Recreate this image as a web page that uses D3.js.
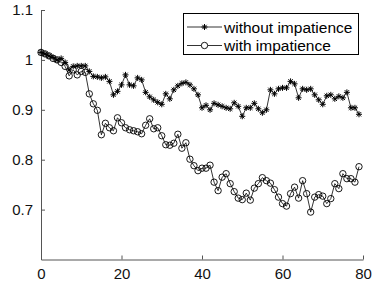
<!DOCTYPE html>
<html>
<head>
<meta charset="utf-8">
<script src="https://cdn.jsdelivr.net/npm/d3@7"></script>
<style>
  body { margin: 0; background: #fff; }
  text { font-family: "Liberation Sans", Arial, sans-serif; }
</style>
</head>
<body>
<div id="graph"></div>
<script>
// data, x = 0..79
var withoutImpatience = [
  1.015, 1.012, 1.008, 1.005, 1.0, 1.003, 0.995, 0.98, 0.987, 0.988,
  0.988, 0.988, 0.977, 0.967, 0.966, 0.964, 0.966, 0.957, 0.93, 0.937,
  0.95, 0.97, 0.95, 0.948, 0.964, 0.96, 0.935, 0.926, 0.92, 0.915,
  0.911, 0.932, 0.922, 0.94, 0.948, 0.953, 0.955, 0.95, 0.942, 0.93,
  0.904, 0.909, 0.9, 0.913, 0.91, 0.907, 0.904, 0.902, 0.914, 0.907,
  0.887, 0.904, 0.904, 0.913, 0.902, 0.894, 0.9, 0.94, 0.932, 0.942,
  0.944, 0.944, 0.957, 0.952, 0.924, 0.942, 0.94, 0.942, 0.93, 0.92,
  0.911, 0.928, 0.93, 0.922, 0.927, 0.924, 0.935, 0.904, 0.904, 0.891
];
var withImpatience = [
  1.015, 1.012, 1.008, 1.003, 1.0, 0.995, 0.987, 0.968, 0.98, 0.97,
  0.977, 0.975, 0.932, 0.912, 0.899, 0.85, 0.873, 0.864, 0.858, 0.884,
  0.874, 0.864, 0.86, 0.858, 0.856, 0.852, 0.869, 0.882, 0.862, 0.864,
  0.848, 0.83, 0.829, 0.833, 0.851, 0.823, 0.834, 0.801, 0.788, 0.778,
  0.783, 0.783, 0.789, 0.755, 0.738, 0.765, 0.772, 0.752, 0.736, 0.723,
  0.72, 0.733, 0.719, 0.743, 0.752, 0.764, 0.758, 0.753, 0.74, 0.725,
  0.712, 0.707, 0.732, 0.745, 0.723, 0.758, 0.732, 0.695, 0.725, 0.73,
  0.727, 0.712, 0.722, 0.752, 0.742, 0.772, 0.762, 0.762, 0.755, 0.786
];
var xTicks = [0, 20, 40, 60, 80];
var yTicks = [0.7, 0.8, 0.9, 1, 1.1];
var seriesNames = ["without impatience", "with impatience"];

var svgWidth = 372, svgHeight = 287;
var svg = d3.select("#graph").append("svg")
  .attr("width", svgWidth)
  .attr("height", svgHeight);

var x = d3.scaleLinear().domain([0, 80]).range([41, 363]);
var y = d3.scaleLinear().domain([0.6, 1.1]).range([259.5, 10]);

var axisColor = "#555";

// axes, ticks pointing inward like matlab
var bottomAxis = d3.axisBottom(x).tickValues(xTicks).tickSizeInner(-4).tickSizeOuter(0).tickPadding(9)
  .tickFormat(d3.format("d"));
var gx = svg.append("g").attr("transform", "translate(0," + y(0.6) + ")").call(bottomAxis);

var leftAxis = d3.axisLeft(y).tickValues(yTicks).tickSizeInner(-4).tickSizeOuter(0).tickPadding(8)
  .tickFormat(function (d) { return d === 1 ? "1" : d3.format(".1f")(d); });
var gy = svg.append("g").attr("transform", "translate(" + x(0) + ",0)").call(leftAxis);

[gx, gy].forEach(function (g) {
  g.select(".domain").attr("stroke", axisColor).attr("stroke-width", 1);
  g.selectAll(".tick line").attr("stroke", axisColor);
  g.selectAll(".tick text").attr("fill", "#111").style("font-size", "15px");
});

var line = d3.line()
  .x(function (d, i) { return x(i); })
  .y(function (d) { return y(d); });

function star(g, cx, cy, r) {
  var p = "M" + (cx - r) + "," + cy + "H" + (cx + r) +
    "M" + cx + "," + (cy - r) + "V" + (cy + r);
  var k = r * 0.72;
  p += "M" + (cx - k) + "," + (cy - k) + "L" + (cx + k) + "," + (cy + k) +
    "M" + (cx - k) + "," + (cy + k) + "L" + (cx + k) + "," + (cy - k);
  g.append("path").attr("d", p).attr("stroke", "#000").attr("stroke-width", 1).attr("fill", "none");
}

// series 1: stars
svg.append("path")
  .attr("d", line(withoutImpatience))
  .attr("fill", "none").attr("stroke", "#000").attr("stroke-width", 0.8);
var starG = svg.append("g");
withoutImpatience.forEach(function (d, i) { star(starG, x(i), y(d), 3); });

// series 2: circles
svg.append("path")
  .attr("d", line(withImpatience))
  .attr("fill", "none").attr("stroke", "#000").attr("stroke-width", 0.8);
svg.append("g").selectAll("circle")
  .data(withImpatience)
  .join("circle")
  .attr("cx", function (d, i) { return x(i); })
  .attr("cy", function (d) { return y(d); })
  .attr("r", 3.2)
  .attr("fill", "none").attr("stroke", "#000").attr("stroke-width", 0.9);

// legend
var legend = svg.append("g");
legend.append("rect")
  .attr("x", 183.5).attr("y", 13.5).attr("width", 175).attr("height", 41)
  .attr("fill", "#fff").attr("stroke", "#000").attr("stroke-width", 1);
seriesNames.forEach(function (name, k) {
  var ly = 27 + k * 18.5;
  legend.append("line")
    .attr("x1", 187).attr("x2", 222).attr("y1", ly).attr("y2", ly)
    .attr("stroke", "#000").attr("stroke-width", 0.8);
  if (k === 0) {
    star(legend, 204.5, ly, 3);
  } else {
    legend.append("circle").attr("cx", 204.5).attr("cy", ly).attr("r", 3.2)
      .attr("fill", "#fff").attr("stroke", "#000").attr("stroke-width", 0.9);
  }
  legend.append("text")
    .attr("x", 224).attr("y", ly + 5.5)
    .style("font-size", "15.5px")
    .attr("fill", "#000")
    .text(name);
});
</script>
</body>
</html>
